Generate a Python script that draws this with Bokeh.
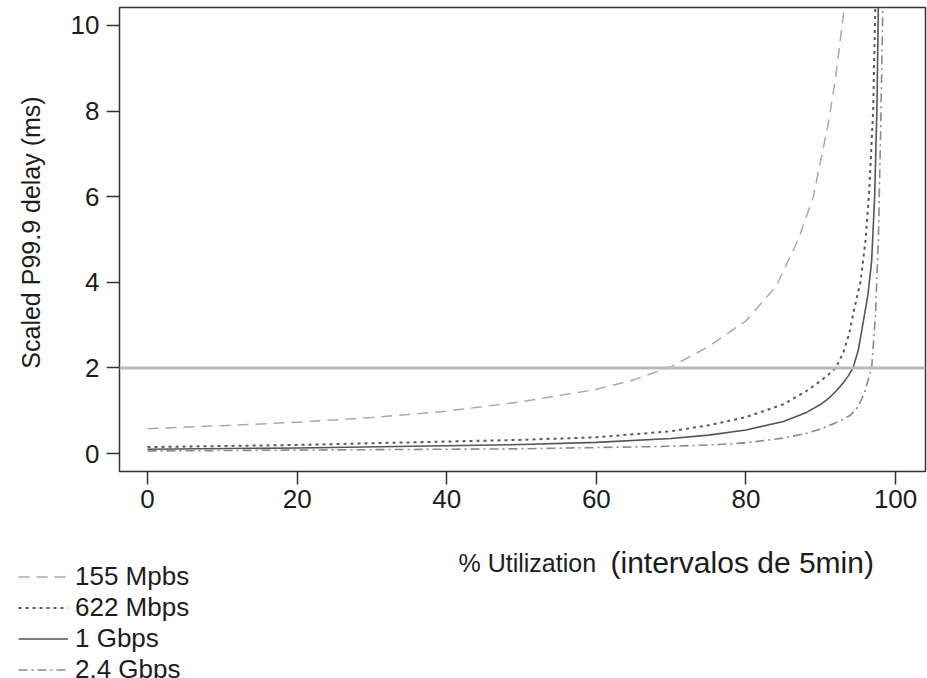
import numpy as np
from bokeh.plotting import figure
from bokeh.layouts import column, row
from bokeh.models import Span, Label, Legend, LegendItem, FixedTicker, Range1d
from bokeh.embed import file_html
from bokeh.resources import INLINE

# ---- data ----
util_155 = [0, 10, 20, 30, 40, 50, 60, 65, 70, 75, 80, 84, 87, 89, 91, 92, 93.2]
delay_155 = [0.58, 0.65, 0.73, 0.84, 0.99, 1.21, 1.5, 1.72, 2.03, 2.5, 3.1, 3.9, 5.0, 6.0, 7.7, 8.8, 10.5]

util_622 = [0, 20, 40, 50, 60, 70, 75, 80, 85, 88, 90, 91, 92, 93, 93.8, 94.5, 95.3, 96, 96.5, 97, 97.3]
delay_622 = [0.15, 0.2, 0.28, 0.32, 0.38, 0.52, 0.66, 0.85, 1.15, 1.45, 1.7, 1.84, 2.0, 2.35, 2.8, 3.4, 4.0, 5.0, 6.2, 8.0, 10.5]

util_1g = [0, 20, 40, 50, 60, 70, 75, 80, 85, 88, 90, 91, 92, 93, 93.7, 94.3, 95, 95.7, 96.3, 96.8, 97.2, 97.5, 97.7]
delay_1g = [0.1, 0.13, 0.18, 0.21, 0.26, 0.35, 0.43, 0.55, 0.75, 0.95, 1.15, 1.28, 1.45, 1.65, 1.82, 2.0, 2.4, 3.1, 3.7, 4.5, 6.0, 8.0, 10.5]

util_24g = [0, 20, 40, 50, 60, 70, 75, 80, 85, 88, 90, 92, 93, 94, 95, 95.8, 96.3, 96.8, 97.3, 97.7, 98.0, 98.3]
delay_24g = [0.06, 0.08, 0.1, 0.11, 0.14, 0.17, 0.2, 0.25, 0.36, 0.47, 0.57, 0.72, 0.8, 0.9, 1.1, 1.4, 1.7, 2.0, 3.2, 5.0, 7.5, 10.5]

threshold = 2
x_ticks = [0, 20, 40, 60, 80, 100]
y_ticks = [0, 2, 4, 6, 8, 10]
series_labels = ["155 Mpbs", "622 Mbps", "1 Gbps", "2.4 Gbps"]
x_title_a = "% Utilization"
x_title_b = "(intervalos de 5min)"
y_title = "Scaled P99.9 delay (ms)"

FONT = "Liberation Sans"
TXT = "#1c1c1c"

styles = [
    dict(line_color="#a9a9a9", line_width=1.5, line_dash="11 7"),
    dict(line_color="#5a5a5a", line_width=2, line_dash="3 4"),
    dict(line_color="#555555", line_width=1.6),
    dict(line_color="#8a8a8a", line_width=1.6, line_dash="9 4 2 4"),
]
series = [(util_155, delay_155), (util_622, delay_622), (util_1g, delay_1g), (util_24g, delay_24g)]


def blank(fig):
    fig.axis.visible = False
    fig.grid.visible = False
    fig.outline_line_color = None
    fig.min_border_left = fig.min_border_right = 0
    fig.min_border_top = fig.min_border_bottom = 0
    return fig


# ---- left strip: y-axis title ----
pl = blank(figure(width=67, height=530, output_backend="svg", toolbar_location=None,
                  x_range=Range1d(0, 67), y_range=Range1d(530, 0)))
pl.add_layout(Label(x=30, y=257, angle=np.pi / 2, text=y_title, text_font=FONT,
                    text_font_size="25px", text_color=TXT,
                    text_baseline="middle", text_align="center"))

# ---- main plot ----
p = figure(width=860, height=530, output_backend="svg", toolbar_location=None,
           x_range=Range1d(-3.75, 104), y_range=Range1d(-0.42, 10.42),
           min_border_left=50, min_border_right=2, min_border_top=7,
           min_border_bottom=59)
p.grid.visible = False
p.outline_line_color = "#333333"
p.outline_line_width = 1.5
p.xaxis.ticker = FixedTicker(ticks=x_ticks)
p.yaxis.ticker = FixedTicker(ticks=y_ticks)
for ax in (p.xaxis[0], p.yaxis[0]):
    ax.axis_line_color = None
    ax.major_tick_in = 0
    ax.major_tick_out = 13
    ax.minor_tick_line_color = None
    ax.major_tick_line_color = "#333333"
    ax.major_tick_line_width = 1.5
    ax.major_label_text_font = FONT
    ax.major_label_text_font_size = "26px"
    ax.major_label_text_color = TXT
p.yaxis.major_label_standoff = 7
p.xaxis.major_label_standoff = 5

p.add_layout(Span(location=threshold, dimension="width", line_color="#bdb7c2", line_width=3))
for (xs, ys), st in zip(series, styles):
    p.line(xs, ys, line_join="round", **st)

# ---- bottom strip: x-axis title and legend ----
pb = blank(figure(width=927, height=148, output_backend="svg", toolbar_location=None,
                  x_range=Range1d(0, 927), y_range=Range1d(678, 530)))
pb.add_layout(Label(x=458, y=562, text=x_title_a, text_font=FONT, text_font_size="25px",
                    text_color=TXT, text_baseline="alphabetic", text_align="left"))
pb.add_layout(Label(x=610, y=562, text=x_title_b, text_font=FONT, text_font_size="30px",
                    text_color=TXT, text_baseline="alphabetic", text_align="left"))

# legend samples: same series, drawn outside the strip's visible range
items = []
for (xs, ys), st, lab in zip(series, styles, series_labels):
    r = pb.line(xs, ys, **st)
    items.append(LegendItem(label=lab, renderers=[r]))
legend = Legend(items=items, location=(18, -7))
legend.glyph_width = 50
legend.glyph_height = 31
legend.label_height = 31
legend.spacing = 0
legend.padding = 0
legend.margin = 0
legend.label_standoff = 7
legend.border_line_color = None
legend.background_fill_alpha = 0
legend.label_text_font = FONT
legend.label_text_font_size = "26px"
legend.label_text_color = TXT
pb.add_layout(legend, "center")

layout = column(row(pl, p, spacing=0), pb, spacing=0)
open("out.html", "w").write(file_html(layout, INLINE))
